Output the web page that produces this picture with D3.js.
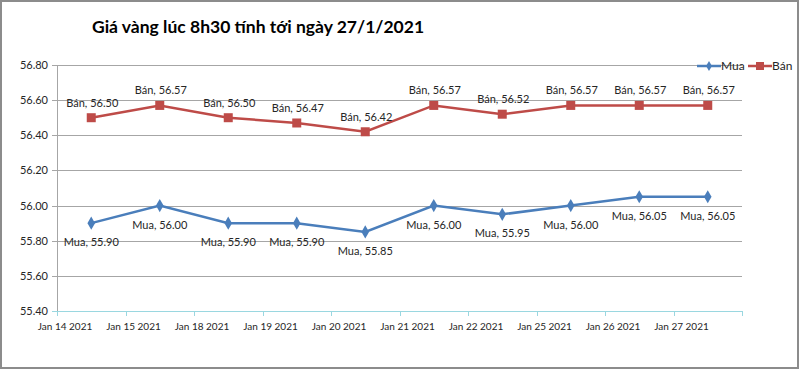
<!DOCTYPE html>
<html>
<head>
<meta charset="utf-8">
<script src="https://cdn.jsdelivr.net/npm/d3@7"></script>
<style>
  body { margin: 0; background: #fff; }
  svg { display: block; font-family: Lato, "Open Sans", sans-serif; }
</style>
</head>
<body>
<div id="chart"></div>
<script>
// data
var days = ["Jan 14 2021", "Jan 15 2021", "Jan 18 2021", "Jan 19 2021", "Jan 20 2021",
            "Jan 21 2021", "Jan 22 2021", "Jan 25 2021", "Jan 26 2021", "Jan 27 2021"];
var mua = [55.90, 56.00, 55.90, 55.90, 55.85, 56.00, 55.95, 56.00, 56.05, 56.05];
var ban = [56.50, 56.57, 56.50, 56.47, 56.42, 56.57, 56.52, 56.57, 56.57, 56.57];
var yTicks = [55.40, 55.60, 55.80, 56.00, 56.20, 56.40, 56.60, 56.80];

var width = 800, height = 370;
var margin = { top: 65, right: 58, bottom: 59, left: 57 };
var blue = "#4a7ebb", red = "#be4b48";

var svg = d3.select("#chart").append("svg")
    .attr("width", width)
    .attr("height", height);

// outer frame
svg.append("rect")
    .attr("x", 1).attr("y", 1)
    .attr("width", width - 3).attr("height", height - 3)
    .attr("fill", "#fff")
    .attr("stroke", "#8c8c8c")
    .attr("stroke-width", 2);

var x = d3.scaleBand()
    .domain(days)
    .range([margin.left, width - margin.right]);

var y = d3.scaleLinear()
    .domain([55.40, 56.80])
    .range([height - margin.bottom, margin.top]);

// gridlines
svg.append("g")
    .selectAll("line")
    .data(yTicks)
    .enter().append("line")
    .attr("x1", margin.left - 5)
    .attr("x2", width - margin.right)
    .attr("y1", function(d) { return Math.round(y(d)) + 0.5; })
    .attr("y2", function(d) { return Math.round(y(d)) + 0.5; })
    .attr("stroke", function(d) { return d === 55.40 ? "#9ad7e0" : "#a6a6a6"; })
    .attr("stroke-width", 1.2);

// y axis line
svg.append("line")
    .attr("x1", margin.left + 0.5).attr("x2", margin.left + 0.5)
    .attr("y1", y(56.80)).attr("y2", y(55.40))
    .attr("stroke", "#a6a6a6");

// y labels
svg.append("g")
    .selectAll("text")
    .data(yTicks)
    .enter().append("text")
    .attr("x", margin.left - 9)
    .attr("y", function(d) { return y(d) + 4; })
    .attr("text-anchor", "end")
    .attr("font-size", 11)
    .attr("fill", "#262626")
    .text(function(d) { return d.toFixed(2); });

// x ticks
var tickPos = days.map(function(d) { return x(d); }).concat([width - margin.right]);
svg.append("g")
    .selectAll("line")
    .data(tickPos)
    .enter().append("line")
    .attr("x1", function(d) { return Math.round(d) + 0.5; })
    .attr("x2", function(d) { return Math.round(d) + 0.5; })
    .attr("y1", y(55.40))
    .attr("y2", y(55.40) + 5)
    .attr("stroke", "#9ad7e0");

// x labels
svg.append("g")
    .selectAll("text")
    .data(days)
    .enter().append("text")
    .attr("x", function(d) { return x(d) + 8; })
    .attr("y", y(55.40) + 19)
    .attr("text-anchor", "middle")
    .attr("font-size", 10)
    .attr("fill", "#262626")
    .text(function(d) { return d; });

var line = d3.line()
    .x(function(d, i) { return x(days[i]) + x.bandwidth() / 2; })
    .y(function(d) { return y(d); });

// series
svg.append("path").datum(ban)
    .attr("d", line).attr("fill", "none")
    .attr("stroke", red).attr("stroke-width", 2.5);
svg.append("path").datum(mua)
    .attr("d", line).attr("fill", "none")
    .attr("stroke", blue).attr("stroke-width", 2.5);

var cx = function(d, i) { return x(days[i]) + x.bandwidth() / 2; };

svg.append("g").selectAll("rect")
    .data(ban)
    .enter().append("rect")
    .attr("x", function(d, i) { return cx(d, i) - 4.5; })
    .attr("y", function(d) { return y(d) - 4.5; })
    .attr("width", 9).attr("height", 9)
    .attr("fill", red);

svg.append("g").selectAll("path")
    .data(mua)
    .enter().append("path")
    .attr("d", d3.symbol().type(d3.symbolDiamond).size(50))
    .attr("transform", function(d, i) { return "translate(" + cx(d, i) + "," + y(d) + ")"; })
    .attr("fill", blue);

// data labels
svg.append("g").selectAll("text")
    .data(ban)
    .enter().append("text")
    .attr("x", function(d, i) { return cx(d, i) + 1; })
    .attr("y", function(d) { return y(d) - 11; })
    .attr("text-anchor", "middle")
    .attr("font-size", 11)
    .attr("fill", "#262626")
    .text(function(d) { return "Bán, " + d.toFixed(2); });

svg.append("g").selectAll("text")
    .data(mua)
    .enter().append("text")
    .attr("x", function(d, i) { return cx(d, i); })
    .attr("y", function(d) { return y(d) + 23; })
    .attr("text-anchor", "middle")
    .attr("font-size", 11)
    .attr("fill", "#262626")
    .text(function(d) { return "Mua, " + d.toFixed(2); });

// title
svg.append("text")
    .attr("x", 92)
    .attr("y", 33)
    .attr("font-size", 17.5)
    .attr("font-weight", "bold")
    .attr("fill", "#000")
    .text("Giá vàng lúc 8h30 tính tới ngày 27/1/2021");

// legend
var legend = [{ name: "Mua", color: blue, x: 697 }, { name: "Bán", color: red, x: 748 }];
var lg = svg.append("g").selectAll("g")
    .data(legend)
    .enter().append("g")
    .attr("transform", function(d) { return "translate(" + d.x + ",66)"; });
lg.append("line")
    .attr("x1", 0).attr("x2", 24)
    .attr("stroke", function(d) { return d.color; })
    .attr("stroke-width", 2.5);
lg.filter(function(d) { return d.name === "Mua"; }).append("path")
    .attr("d", d3.symbol().type(d3.symbolDiamond).size(30))
    .attr("transform", "translate(12,0)")
    .attr("fill", blue);
lg.filter(function(d) { return d.name === "Bán"; }).append("rect")
    .attr("x", 8).attr("y", -4).attr("width", 8).attr("height", 8)
    .attr("fill", red);
lg.append("text")
    .attr("x", 24).attr("y", 4)
    .attr("font-size", 12)
    .attr("fill", "#262626")
    .text(function(d) { return d.name; });
</script>
</body>
</html>
